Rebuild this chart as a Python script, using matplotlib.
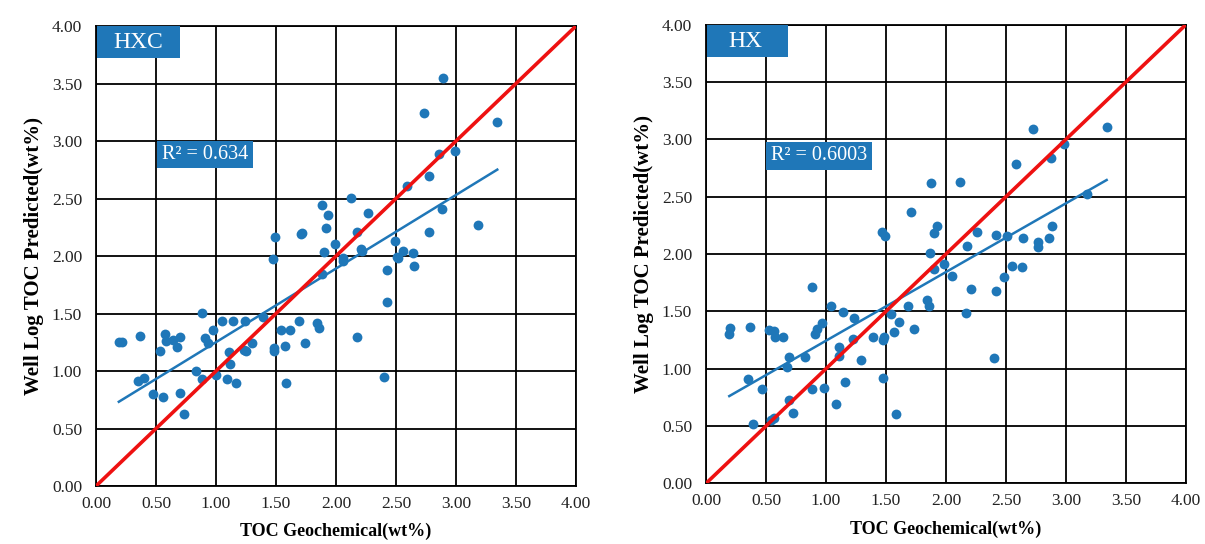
import matplotlib
matplotlib.use("Agg")
import matplotlib.pyplot as plt
from matplotlib.patches import Rectangle
import numpy as np

# ---------------- data ----------------
hxc_x = [0.19, 0.22, 0.37, 0.575, 0.583, 0.639, 0.70, 0.678, 0.533, 0.353, 0.40, 0.472, 0.556,
         0.70, 0.733, 0.833, 0.88, 0.908, 0.93, 0.972, 0.88, 0.997, 1.047, 1.144, 1.242, 1.111,
         1.117, 1.089, 1.164, 1.233, 1.247, 1.297, 1.394, 1.472, 1.483, 1.483, 1.575, 1.542,
         1.617, 1.583, 1.694, 1.742, 1.839, 1.861, 1.90, 1.88, 2.061, 2.214, 2.514, 2.556,
         2.644, 2.653, 2.422, 2.422, 2.403, 2.172, 2.894, 2.733, 3.344, 2.861, 2.992, 2.775,
         2.589, 2.886, 2.122, 1.881, 1.936, 1.914, 2.264, 2.178, 2.772, 3.183, 1.714, 1.992,
         2.208, 2.492, 2.511, 1.492, 1.711, 2.061]
hxc_y = [1.255, 1.255, 1.304, 1.319, 1.264, 1.27, 1.30, 1.211, 1.174, 0.913, 0.942, 0.80, 0.777,
         0.806, 0.626, 1.003, 1.507, 1.284, 1.246, 1.357, 0.928, 0.965, 1.437, 1.437, 1.435, 1.168,
         1.058, 0.930, 0.893, 1.183, 1.177, 1.241, 1.472, 1.971, 1.197, 1.174, 1.217, 1.357,
         1.357, 0.893, 1.435, 1.246, 1.42, 1.371, 2.037, 1.843, 1.959, 2.043, 1.98, 2.043,
         2.023, 1.913, 1.878, 1.597, 0.948, 1.293, 3.545, 3.241, 3.165, 2.884, 2.916, 2.698,
         2.609, 2.409, 2.502, 2.441, 2.354, 2.246, 2.377, 2.209, 2.211, 2.27, 2.197, 2.101,
         2.061, 2.13, 1.988, 2.165, 2.194, 1.98]

hx_x = [0.20, 0.194, 0.367, 0.528, 0.567, 0.575, 0.639, 0.353, 0.464, 0.394, 0.539, 0.565,
        0.694, 0.678, 0.694, 0.728, 0.825, 0.881, 0.881, 0.908, 0.928, 0.969, 0.986, 1.039,
        1.139, 1.236, 1.108, 1.111, 1.158, 1.083, 1.228, 1.289, 1.394, 1.472, 1.486, 1.542,
        1.567, 1.608, 1.686, 1.736, 1.839, 1.861, 1.472, 1.581, 2.206, 2.417, 2.167, 2.397,
        2.728, 3.339, 2.986, 2.875, 2.586, 1.875, 2.117, 1.708, 3.178, 1.928, 1.903, 2.256,
        2.417, 2.506, 2.644, 2.856, 2.886, 2.764, 2.764, 2.175, 1.867, 1.986, 1.903, 2.053,
        2.55, 2.636, 2.486, 1.469, 1.494]
hx_y = [1.357, 1.30, 1.366, 1.337, 1.329, 1.274, 1.274, 0.910, 0.823, 0.518, 0.553, 0.57,
        1.099, 1.012, 0.727, 0.611, 1.105, 1.715, 0.820, 1.30, 1.343, 1.396, 0.835, 1.547,
        1.497, 1.445, 1.192, 1.111, 0.881, 0.692, 1.259, 1.073, 1.279, 1.25, 1.279, 1.477,
        1.323, 1.41, 1.547, 1.346, 1.599, 1.547, 0.916, 0.602, 1.692, 1.677, 1.488, 1.091,
        3.09, 3.11, 2.956, 2.834, 2.785, 2.619, 2.625, 2.369, 2.526, 2.244, 2.18, 2.195,
        2.166, 2.157, 2.142, 2.142, 2.247, 2.102, 2.064, 2.07, 2.011, 1.91, 1.866, 1.808,
        1.898, 1.889, 1.797, 2.189, 2.157]

# linear trend coefficients (slope, intercept) and R² labels
hxc_trend = [0.64, 0.611]
hx_trend = [0.599, 0.645]
panel_names = ["HXC", "HX"]
r2_labels = ["R\u00b2 = 0.634", "R\u00b2 = 0.6003"]
ticks = [0.0, 0.5, 1.0, 1.5, 2.0, 2.5, 3.0, 3.5, 4.0]
tick_labels = ["0.00", "0.50", "1.00", "1.50", "2.00", "2.50", "3.00", "3.50", "4.00"]

# ---------------- style ----------------
BLUE = "#1f77b8"
SERIF = "Liberation Serif"
plt.rcParams["font.family"] = SERIF

fig = plt.figure(figsize=(12.05, 5.44), dpi=100)
ax1 = fig.add_axes([0.0797, 0.1066, 0.3983, 0.8456])
ax2 = fig.add_axes([0.5859, 0.1114, 0.3983, 0.8434])

# label box geometry (data coords): name box (x0, x1, text x), r2 box (x0, x1, y0, y1)
name_boxes = [(0.008, 0.70, 0.354), (0.008, 0.68, 0.33)]
r2_boxes = [(0.51, 1.31, 2.765, 3.0), (0.50, 1.385, 2.735, 2.975)]

panels = [(ax1, hxc_x, hxc_y, hxc_trend, 0), (ax2, hx_x, hx_y, hx_trend, 1)]
for ax, xs, ys, tr, i in panels:
    ax.set_xlim(0, 4)
    ax.set_ylim(0, 4)
    ax.set_xticks(ticks)
    ax.set_yticks(ticks)
    ax.set_xticklabels(tick_labels, fontsize=12.5)
    ax.set_yticklabels(tick_labels, fontsize=12.5)
    ax.tick_params(length=0, colors="#222222")
    ax.tick_params(axis="x", pad=7)
    ax.tick_params(axis="y", pad=10)
    ax.grid(True, color="black", linewidth=1.3)
    ax.set_axisbelow(True)
    for s in ax.spines.values():
        s.set_color("black")
        s.set_linewidth(1.3)
    ax.scatter(xs, ys, s=50, color=BLUE, zorder=3, linewidths=0)
    xx = np.array([min(xs), max(xs)])
    ax.plot(xx, tr[0] * xx + tr[1], color=BLUE, linewidth=1.8, zorder=4)
    ax.plot([0, 4], [0, 4], color="#ee1111", linewidth=2.6, zorder=5)
    ax.set_xlabel("TOC Geochemical(wt%)", fontsize=13, fontweight="bold", labelpad=8)
    ax.set_ylabel("Well Log TOC Predicted(wt%)", fontsize=15, fontweight="bold", labelpad=6)

    nx0, nx1, ntx = name_boxes[i]
    ax.add_patch(Rectangle((nx0, 3.72), nx1 - nx0, 0.28, facecolor=BLUE, edgecolor="none",
                           zorder=6))
    ax.text(ntx, 3.855, panel_names[i], fontsize=17, color="white", va="center", ha="center",
            zorder=7)
    rx0, rx1, ry0, ry1 = r2_boxes[i]
    ax.add_patch(Rectangle((rx0, ry0), rx1 - rx0, ry1 - ry0, facecolor=BLUE, edgecolor="none",
                           zorder=6))
    ax.text(rx0 + 0.04, (ry0 + ry1) / 2, r2_labels[i], fontsize=14.5, color="white",
            va="center", ha="left", zorder=7)

fig.savefig("out.png", dpi=100, facecolor="white")
